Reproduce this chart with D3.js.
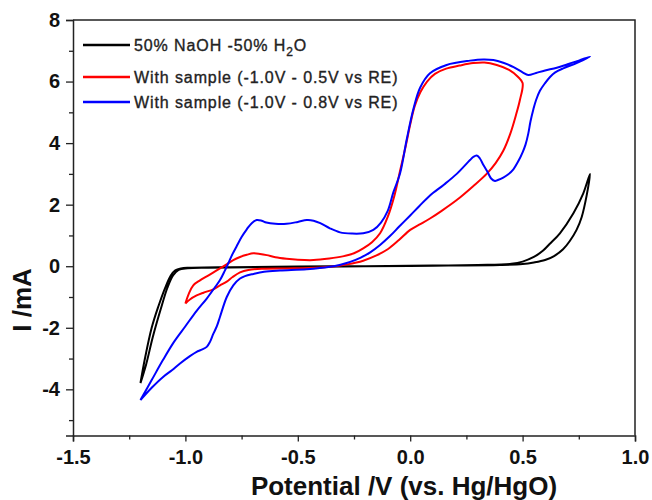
<!DOCTYPE html>
<html>
<head>
<meta charset="utf-8">
<script src="https://cdn.jsdelivr.net/npm/d3@7/dist/d3.min.js"></script>
<style>
  html, body { margin: 0; padding: 0; background: #fff; }
  svg { display: block; }
  text { font-family: "Liberation Sans", Arial, Helvetica, sans-serif; }
</style>
</head>
<body>
<svg id="chart" width="652" height="500"></svg>
<script>
// ---------------- DATA (potential V, current mA) ----------------
const xTicks = [-1.5, -1.0, -0.5, 0.0, 0.5, 1.0];
const xMinorTicks = [-1.25, -0.75, -0.25, 0.25, 0.75];
const yTicks = [-4, -2, 0, 2, 4, 6, 8];
const yMinorTicks = [-5, -3, -1, 1, 3, 5, 7];

const seriesNames = [
  "50% NaOH -50% H",
  "With sample (-1.0V - 0.5V vs RE)",
  "With sample (-1.0V - 0.8V vs RE)"
];
const seriesColors = ["#000000", "#ff0000", "#0000ff"];

// Blank electrolyte: 50% NaOH - 50% H2O
const naohCurve = [
  [-1.2, -3.8], [-1.18, -3.0], [-1.15, -2.0], [-1.12, -1.3], [-1.09, -0.7],
  [-1.065, -0.3], [-1.045, -0.13], [-1.02, -0.07], [-0.98, -0.05], [-0.8, -0.03],
  [-0.5, -0.01], [-0.2, 0.0], [0.1, 0.02], [0.4, 0.04], [0.5, 0.07],
  [0.55, 0.12], [0.6, 0.2], [0.64, 0.33], [0.68, 0.55], [0.71, 0.82],
  [0.74, 1.18], [0.763, 1.6], [0.785, 2.3], [0.8, 3.0],
  [0.77, 2.37], [0.726, 1.72], [0.666, 1.07], [0.62, 0.72], [0.59, 0.5],
  [0.55, 0.3], [0.5, 0.15], [0.45, 0.08], [0.3, 0.04], [0.0, 0.01],
  [-0.3, -0.01], [-0.6, -0.03], [-0.9, -0.05], [-0.99, -0.07], [-1.03, -0.12],
  [-1.055, -0.3], [-1.08, -0.7], [-1.11, -1.4], [-1.145, -2.3], [-1.175, -3.2],
  [-1.2, -3.8]
];

// With sample, -1.0 V to 0.5 V
const sample05Curve = [
  [-1.0, -1.21], [-0.985, -0.9], [-0.965, -0.62], [-0.935, -0.46], [-0.905, -0.33],
  [-0.875, -0.2], [-0.846, -0.07], [-0.815, 0.07], [-0.787, 0.2], [-0.757, 0.3],
  [-0.727, 0.37], [-0.698, 0.42], [-0.668, 0.4], [-0.638, 0.36], [-0.6, 0.29],
  [-0.55, 0.24], [-0.5, 0.21], [-0.43, 0.2], [-0.36, 0.25], [-0.3, 0.32],
  [-0.25, 0.42], [-0.209, 0.58], [-0.17, 0.78], [-0.134, 1.07], [-0.1, 1.6],
  [-0.07, 2.3], [-0.045, 3.1], [-0.02, 3.9], [0.0, 4.6], [0.02, 5.2],
  [0.045, 5.65], [0.075, 6.0], [0.11, 6.25], [0.16, 6.42], [0.22, 6.52],
  [0.28, 6.6], [0.33, 6.62], [0.385, 6.54], [0.44, 6.38], [0.48, 6.15],
  [0.5, 5.95], [0.488, 5.4], [0.47, 4.9], [0.445, 4.3], [0.414, 3.75],
  [0.38, 3.35], [0.34, 3.0], [0.28, 2.6], [0.207, 2.15], [0.14, 1.8],
  [0.088, 1.55], [0.04, 1.35], [0.0, 1.18], [-0.05, 0.85], [-0.1, 0.55],
  [-0.15, 0.35], [-0.209, 0.18], [-0.28, 0.06], [-0.357, -0.02], [-0.45, -0.06],
  [-0.55, -0.07], [-0.653, -0.08], [-0.72, -0.12], [-0.757, -0.2], [-0.79, -0.35],
  [-0.816, -0.5], [-0.846, -0.62], [-0.876, -0.75], [-0.92, -0.86], [-0.95, -0.95],
  [-0.98, -1.08], [-1.0, -1.21]
];

// With sample, -1.0 V to 0.8 V (swept -1.2 V to 0.8 V)
const sample08Curve = [
  [-1.2, -4.35], [-1.15, -3.7], [-1.1, -3.05], [-1.05, -2.45], [-1.0, -1.95],
  [-0.95, -1.45], [-0.905, -1.05], [-0.87, -0.7], [-0.846, -0.45], [-0.825, -0.15],
  [-0.809, 0.1], [-0.79, 0.4], [-0.772, 0.65], [-0.75, 0.95], [-0.727, 1.2],
  [-0.705, 1.4], [-0.683, 1.5], [-0.661, 1.48], [-0.64, 1.42], [-0.6, 1.38],
  [-0.55, 1.38], [-0.5, 1.44], [-0.46, 1.5], [-0.43, 1.48], [-0.4, 1.4],
  [-0.357, 1.23], [-0.312, 1.1], [-0.26, 1.06], [-0.209, 1.07], [-0.164, 1.18],
  [-0.13, 1.42], [-0.1, 1.8], [-0.075, 2.4], [-0.045, 3.02], [-0.016, 4.1],
  [0.014, 5.1], [0.044, 5.8], [0.088, 6.27], [0.162, 6.54], [0.266, 6.68],
  [0.325, 6.72], [0.37, 6.7], [0.414, 6.61], [0.46, 6.47], [0.5, 6.3],
  [0.525, 6.21], [0.56, 6.28], [0.6, 6.36], [0.652, 6.45], [0.7, 6.56],
  [0.75, 6.68], [0.8, 6.81],
  [0.74, 6.6], [0.681, 6.43], [0.645, 6.3], [0.622, 6.15], [0.6, 5.95],
  [0.577, 5.7], [0.56, 5.4], [0.548, 5.1], [0.535, 4.7], [0.525, 4.3],
  [0.513, 3.95], [0.5, 3.7], [0.48, 3.4], [0.459, 3.15], [0.435, 2.98],
  [0.414, 2.88], [0.39, 2.8], [0.377, 2.77], [0.36, 2.85], [0.345, 3.05],
  [0.325, 3.3], [0.31, 3.5], [0.296, 3.6], [0.28, 3.55], [0.266, 3.45],
  [0.207, 3.0], [0.15, 2.65], [0.088, 2.3], [0.04, 1.95], [0.0, 1.65],
  [-0.05, 1.28], [-0.09, 0.98], [-0.134, 0.69], [-0.178, 0.45], [-0.22, 0.28],
  [-0.267, 0.14], [-0.31, 0.05], [-0.357, -0.02], [-0.46, -0.1], [-0.579, -0.14],
  [-0.65, -0.18], [-0.698, -0.25], [-0.735, -0.32], [-0.757, -0.4], [-0.787, -0.62],
  [-0.816, -1.0], [-0.846, -1.64], [-0.86, -1.95], [-0.876, -2.2], [-0.89, -2.45],
  [-0.905, -2.62], [-0.93, -2.72], [-0.95, -2.78], [-0.98, -2.92], [-1.024, -3.16],
  [-1.06, -3.38], [-1.098, -3.59], [-1.15, -3.95], [-1.2, -4.35]
];

const curves = [naohCurve, sample05Curve, sample08Curve];

// ---------------- CHART ----------------
const svg = d3.select("#chart");
const plot = { left: 73, right: 635, top: 20, bottom: 435.5 };

const x = d3.scaleLinear().domain([-1.5, 1.0]).range([plot.left, plot.right]);
const y = d3.scaleLinear().domain([-5.5, 8]).range([plot.bottom, plot.top]);

const axisColor = "#222";
const hyphen = f => d => f(d).replace("\u2212", "-");

// frame (top and right)
svg.append("path")
  .attr("d", `M${plot.left},${plot.top}H${plot.right}V${plot.bottom}`)
  .attr("fill", "none").attr("stroke", axisColor).attr("stroke-width", 1.5);

// x axis
const gx = svg.append("g").attr("transform", `translate(0,${plot.bottom})`)
  .call(d3.axisBottom(x).tickValues(xTicks).tickFormat(hyphen(d3.format(".1f"))).tickSize(6).tickPadding(8));
svg.append("g").attr("transform", `translate(0,${plot.bottom})`)
  .call(d3.axisBottom(x).tickValues(xMinorTicks).tickFormat("").tickSize(4))
  .select(".domain").remove();

// y axis
const gy = svg.append("g").attr("transform", `translate(${plot.left},0)`)
  .call(d3.axisLeft(y).tickValues(yTicks).tickFormat(hyphen(d3.format("d"))).tickSize(7).tickPadding(6));
svg.append("g").attr("transform", `translate(${plot.left},0)`)
  .call(d3.axisLeft(y).tickValues(yMinorTicks).tickFormat("").tickSize(4))
  .select(".domain").remove();

svg.selectAll(".domain").attr("stroke", axisColor).attr("stroke-width", 1.5);
svg.selectAll(".tick line").attr("stroke", axisColor).attr("stroke-width", 1.3);
gx.selectAll(".tick text").attr("font-size", 20).attr("font-weight", "bold").attr("fill", "#111")
  .attr("font-family", "'Liberation Sans', Arial, sans-serif");
gy.selectAll(".tick text").attr("font-size", 20).attr("font-weight", "bold").attr("fill", "#111")
  .attr("font-family", "'Liberation Sans', Arial, sans-serif");

// axis titles
svg.append("text")
  .attr("x", 404).attr("y", 495)
  .attr("text-anchor", "middle")
  .attr("font-size", 26).attr("font-weight", "bold").attr("fill", "#111")
  .text("Potential /V (vs. Hg/HgO)");

svg.append("text")
  .attr("transform", "translate(31,300) rotate(-90)")
  .attr("text-anchor", "middle")
  .attr("font-size", 26).attr("font-weight", "bold").attr("fill", "#111")
  .text("I /mA");

// curves
const line = d3.line()
  .x(d => x(d[0])).y(d => y(d[1]))
  .curve(d3.curveCatmullRom.alpha(0.5));

svg.append("g").selectAll("path")
  .data(curves)
  .join("path")
  .attr("d", line)
  .attr("fill", "none")
  .attr("stroke", (d, i) => seriesColors[i])
  .attr("stroke-width", 2)
  .attr("stroke-linejoin", "round");

// legend
const legendRows = [45, 77, 102];
const legend = svg.append("g");
seriesNames.forEach((name, i) => {
  legend.append("line")
    .attr("x1", 83).attr("x2", 130)
    .attr("y1", legendRows[i]).attr("y2", legendRows[i])
    .attr("stroke", seriesColors[i]).attr("stroke-width", 2.5);
  const t = legend.append("text")
    .attr("x", 134).attr("y", legendRows[i] + 6)
    .attr("font-size", 16).attr("fill", "#222")
    .attr("stroke", "#222").attr("stroke-width", 0.35)
    .attr("letter-spacing", 0.9);
  t.append("tspan").text(name);
  if (i === 0) {
    t.append("tspan").attr("dy", 5).attr("font-size", 12).text("2");
    t.append("tspan").attr("dy", -5).text("O");
  }
});
</script>
</body>
</html>
